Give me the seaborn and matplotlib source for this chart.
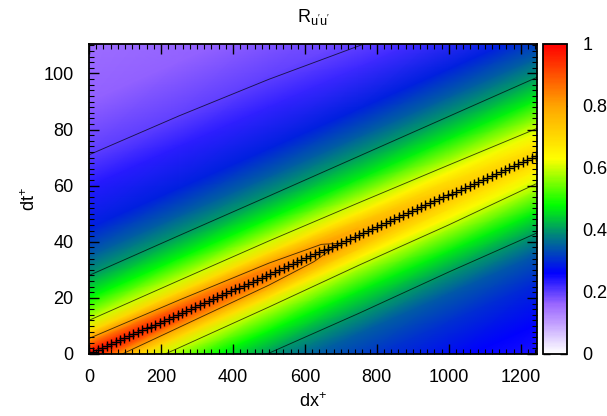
import numpy as np
import pandas as pd
import matplotlib
matplotlib.use("Agg")
import matplotlib.pyplot as plt
from matplotlib.colors import LinearSegmentedColormap
from matplotlib.ticker import MultipleLocator
import seaborn as sns

# ---------------- data ----------------
# stations along dx+ and the dt+ position of the ridge (convection line) there
station_dx = [0, 250, 500, 750, 1000, 1250]
ridge_dt = [0.0, 14.2, 28.3, 42.5, 56.7, 70.9]

# offsets in dt+ from the ridge at which R was read
offset_dt = [-80, -60, -45, -35, -28, -20, -12, -8, -5, -2.5, 0, 2.5, 5, 8, 12,
             20, 28, 35, 45, 60, 71, 90, 115]

# R_u'u' read at each station (rows) and offset (columns)
R_dx0 = [0.25, 0.28, 0.32, 0.36, 0.40, 0.48, 0.60, 0.71, 0.82, 0.92, 1.00, 0.92,
         0.82, 0.71, 0.60, 0.48, 0.40, 0.35, 0.29, 0.235, 0.20, 0.165, 0.15]
R_dx250 = [0.25, 0.28, 0.32, 0.36, 0.40, 0.48, 0.60, 0.70, 0.79, 0.88, 0.93, 0.88,
           0.80, 0.70, 0.60, 0.48, 0.40, 0.35, 0.29, 0.232, 0.199, 0.165, 0.15]
R_dx500 = [0.245, 0.275, 0.315, 0.355, 0.40, 0.48, 0.59, 0.68, 0.77, 0.83, 0.855,
           0.835, 0.78, 0.69, 0.60, 0.48, 0.40, 0.35, 0.29, 0.228, 0.196, 0.165, 0.15]
R_dx750 = [0.24, 0.27, 0.31, 0.35, 0.40, 0.47, 0.58, 0.65, 0.72, 0.77, 0.785, 0.775,
           0.73, 0.66, 0.59, 0.47, 0.40, 0.35, 0.29, 0.22, 0.19, 0.165, 0.15]
R_dx1000 = [0.235, 0.265, 0.305, 0.345, 0.395, 0.47, 0.58, 0.64, 0.68, 0.72, 0.74,
            0.72, 0.69, 0.64, 0.58, 0.47, 0.40, 0.35, 0.29, 0.215, 0.185, 0.165, 0.15]
R_dx1250 = [0.23, 0.26, 0.30, 0.34, 0.395, 0.47, 0.575, 0.62, 0.66, 0.69, 0.70,
            0.69, 0.66, 0.62, 0.575, 0.47, 0.40, 0.35, 0.29, 0.21, 0.18, 0.165, 0.15]

# maxima markers along the ridge
marker_dx = [0, 12.3, 24.6, 36.9, 49.2, 61.5, 73.8, 86.1, 98.4, 110.7,
             123.0, 135.3, 147.6, 159.9, 172.2, 184.5, 196.8, 209.1, 221.4, 233.7,
             246.0, 258.3, 270.6, 282.9, 295.2, 307.5, 319.8, 332.1, 344.4, 356.7,
             369.0, 381.3, 393.6, 405.9, 418.2, 430.5, 442.8, 455.1, 467.4, 479.7,
             492.0, 504.3, 516.6, 528.9, 541.2, 553.5, 565.8, 578.1, 590.4, 602.7,
             615.0, 627.3, 639.6, 651.9, 664.2, 676.5, 688.8, 701.1, 713.4, 725.7,
             738.0, 750.3, 762.6, 774.9, 787.2, 799.5, 811.8, 824.1, 836.4, 848.7,
             861.0, 873.3, 885.6, 897.9, 910.2, 922.5, 934.8, 947.1, 959.4, 971.7,
             984.0, 996.3, 1008.6, 1020.9, 1033.2, 1045.5, 1057.8, 1070.1, 1082.4, 1094.7,
             1107.0, 1119.3, 1131.6, 1143.9, 1156.2, 1168.5, 1180.8, 1193.1, 1205.4, 1217.7,
             1230.0, 1242.3]
marker_dt = [0.0, 0.7, 1.4, 2.1, 2.8, 3.5, 4.2, 4.9, 5.6, 6.3,
             7.0, 7.7, 8.4, 9.1, 9.8, 10.5, 11.2, 11.8, 12.5, 13.2,
             13.9, 14.6, 15.3, 16.0, 16.7, 17.4, 18.1, 18.8, 19.5, 20.2,
             20.9, 21.6, 22.3, 23.0, 23.7, 24.4, 25.1, 25.8, 26.5, 27.2,
             27.9, 28.6, 29.3, 30.0, 30.7, 31.4, 32.1, 32.8, 33.5, 34.2,
             34.9, 35.5, 36.2, 36.9, 37.6, 38.3, 39.0, 39.7, 40.4, 41.1,
             41.8, 42.5, 43.2, 43.9, 44.6, 45.3, 46.0, 46.7, 47.4, 48.1,
             48.8, 49.5, 50.2, 50.9, 51.6, 52.3, 53.0, 53.7, 54.4, 55.1,
             55.8, 56.5, 57.2, 57.9, 58.5, 59.2, 59.9, 60.6, 61.3, 62.0,
             62.7, 63.4, 64.1, 64.8, 65.5, 66.2, 66.9, 67.6, 68.3, 69.0,
             69.7, 70.4]

contour_levels = [0.2, 0.4, 0.6, 0.8]
cbar_ticks = [0, 0.2, 0.4, 0.6, 0.8, 1.0]
cbar_ticklabels = ["0", "0.2", "0.4", "0.6", "0.8", "1"]

# palette
pal_pos = [0.0, 0.05, 0.10, 0.16, 0.26, 0.32, 0.38, 0.48, 0.63, 0.80, 1.0]
pal_col = ["#ffffff", "#e0d0ff", "#c09cff", "#9966ff", "#0000ff", "#0040c0",
           "#008080", "#00ff00", "#ffff00", "#ffa500", "#ff0000"]

# ---------------- figure ----------------
sns.set_theme(style="ticks")
plt.rcParams["font.family"] = ["Liberation Sans", "DejaVu Sans"]
plt.rcParams["mathtext.fontset"] = "custom"
plt.rcParams["mathtext.rm"] = "Liberation Sans"
plt.rcParams["mathtext.it"] = "Liberation Sans"
plt.rcParams["font.size"] = 13
plt.rcParams["text.color"] = "black"
plt.rcParams["axes.labelcolor"] = "black"
plt.rcParams["xtick.color"] = "black"
plt.rcParams["ytick.color"] = "black"

FS = 13
cmap = LinearSegmentedColormap.from_list("gp", list(zip(pal_pos, pal_col)))

W, H = 607, 416
fig = plt.figure(figsize=(W / 100, H / 100), dpi=100)
ax = fig.add_axes([89 / W, 1 - 354 / H, (537 - 89) / W, (354 - 44) / H])
cax = fig.add_axes([543 / W, 1 - 354 / H, 24 / W, (354 - 44) / H])
ax.set_axisbelow(False)

table = pd.DataFrame([R_dx0, R_dx250, R_dx500, R_dx750, R_dx1000, R_dx1250],
                     index=station_dx, columns=offset_dt)
X = np.repeat(np.array(station_dx, float)[:, None], len(offset_dt), axis=1)
Y = np.array(ridge_dt)[:, None] + np.array(offset_dt, float)[None, :]
C = table.values

pcm = ax.pcolormesh(X, Y, C, shading="gouraud", cmap=cmap, vmin=0, vmax=1, zorder=0)
ax.contour(X, Y, C, levels=contour_levels, colors="black", linewidths=0.65,
           alpha=0.7, zorder=1)

sns.scatterplot(x=marker_dx, y=marker_dt, marker="+", color="black", s=50,
                linewidth=1.0, ax=ax, legend=False, zorder=5)

ax.set_xlim(0, 1245)
ax.set_ylim(0, 110.5)
ax.xaxis.set_major_locator(MultipleLocator(200))
ax.xaxis.set_minor_locator(MultipleLocator(20))
ax.yaxis.set_major_locator(MultipleLocator(20))
ax.yaxis.set_minor_locator(MultipleLocator(2))
ax.tick_params(which="both", direction="in", top=True, right=True, color="black",
               labelsize=FS, pad=11)
ax.tick_params(which="major", length=7, width=1)
ax.tick_params(which="minor", length=3.5, width=0.8)
for sp in ax.spines.values():
    sp.set_linewidth(1.3)
    sp.set_color("black")
    sp.set_zorder(6)

ax.set_xlabel(r"dx$^{+}$", fontsize=FS)
ax.set_ylabel(r"dt$^{+}$", fontsize=FS)
ax.xaxis.set_label_coords(0.5, (354 - 402) / 310)
ax.xaxis.label.set_va("center")
ax.yaxis.set_label_coords((30 - 89) / 448, 0.5)
ax.yaxis.label.set_va("center")

fig.text((89 + 537) / 2 / W, 1 - 17 / H, r"$\mathregular{R_{u'u'}}$", ha="center",
         va="center", fontsize=FS)

cb = fig.colorbar(pcm, cax=cax, ticks=cbar_ticks)
cb.ax.set_yticklabels(cbar_ticklabels)
cb.outline.set_linewidth(1.3)
cb.outline.set_edgecolor("black")
cax.tick_params(direction="in", left=True, right=True, length=5, width=1,
                labelsize=FS, pad=11)
cax.minorticks_off()

fig.savefig("out.png", dpi=100)
